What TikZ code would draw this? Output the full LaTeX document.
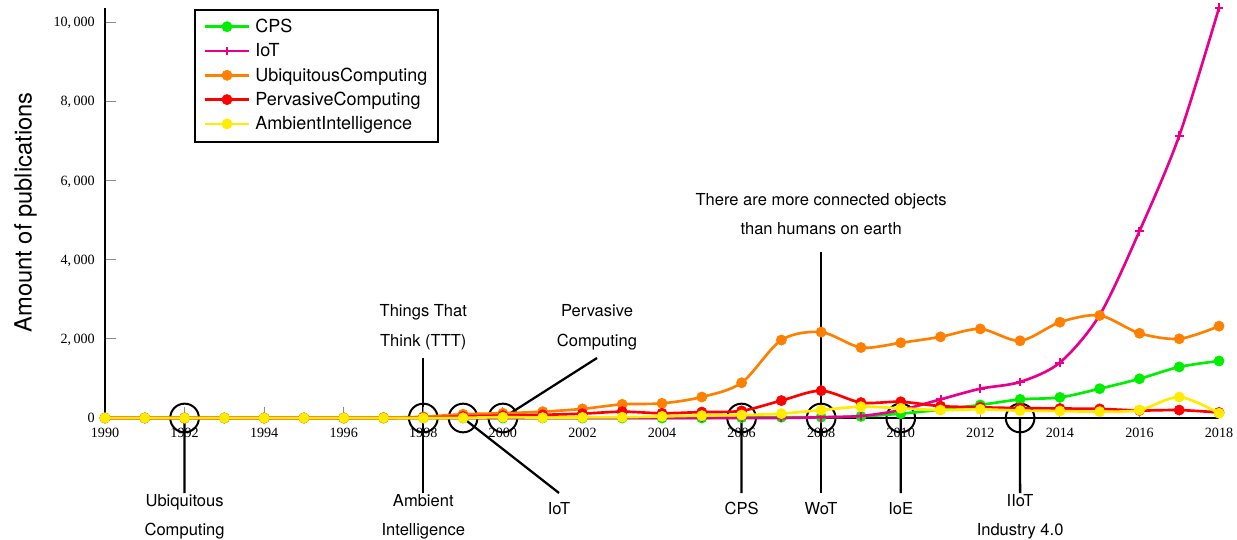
\documentclass[tikz,border=0pt]{standalone}
\usepackage{fontspec}
\setmainfont{TeX Gyre Heros}
\newfontfamily\tickfont{Liberation Serif}

\definecolor{cpsgreen}{RGB}{0,238,0}
\definecolor{iotpink}{RGB}{232,0,140}
\definecolor{ubiorange}{RGB}{255,128,0}
\definecolor{pervred}{RGB}{255,0,0}
\definecolor{amiyellow}{RGB}{255,236,0}

\tikzset {
    style note/.style={
        font=\fontsize{12.4}{22}\selectfont,
        align=center,
        inner sep=1pt,
    },
    style short/.style={
        style note,
        inner ysep=7pt, % one-line labels sit lower
    },
    style ring/.style={
        circle, % the marker round a year
        draw=black,
        line width=1.5pt,
        minimum size=21.5pt,
        inner sep=0pt,
    },
    style pointer/.style={
        draw=black,
        line width=1.7pt,
    },
    style axis/.style={
        draw=black,
        line width=1.8pt,
    },
    style tick/.style={
        draw=black!45,
        line width=0.7pt,
    },
    style ticklabel/.style={
        font=\tickfont\fontsize{10.6}{12}\selectfont,
        inner sep=0pt,
    },
    style key/.style={
        font=\fontsize{13.5}{16}\selectfont,
        inner sep=0pt,
    },
    style series/.style={
        line width=2pt,
        mark size=3.8pt,
        mark options={line width=0.5pt},
    },
    series cps/.style={style series, cpsgreen, mark=*},
    series iot/.style={style series, iotpink, mark=+, mark size=3.3pt, mark options={line width=1.5pt}},
    series ubi/.style={style series, ubiorange, mark=*},
    series perv/.style={style series, pervred, mark=*},
    series ami/.style={style series, amiyellow, mark=*},
}

\begin{document}
\begin{tikzpicture}[x=0.75pt, y=0.75pt]
\useasboundingbox (0,0) rectangle (1237,539);

% annotations (behind the data)
\node[style note, anchor=north] at (184.6,46) (ubi) {Ubiquitous\\Computing};
\node[style note, anchor=south, inner ysep=6pt] at (423.3,181) (ttt) {Things That\\Think (TTT)};
\node[style note, anchor=north] at (423.3,46) (ami) {Ambient\\Intelligence};
\node[style short, anchor=north] at (559,46) (iot) {IoT};
\node[style note, anchor=south, inner ysep=6pt] at (597,181) (perv) {Pervasive\\Computing};
\node[style short, anchor=north] at (741.6,46) (cps) {CPS};
\node[style note, anchor=south, inner ysep=12.5pt] at (821.1,287) (humans) {There are more connected objects\\than humans on earth};
\node[style short, anchor=north] at (821.1,46) (wot) {WoT};
\node[style short, anchor=north] at (900.7,46) (ioe) {IoE};
\node[style note, anchor=north] at (1020.1,46) (iiot) {IIoT\\Industry 4.0};

\node[rotate=90, anchor=base, font=\fontsize{17.8}{20}\selectfont] at (31.7,326.5) (ylab) {Amount of publications};

\begin{scope}[xshift=78.75pt, yshift=90.75pt, x=29.84pt, y=0.0297pt]
\node[style ring] at (2,0) (r1992) {};
\node[style ring] at (8,0) (r1998) {};
\node[style ring] at (9,0) (r1999) {};
\node[style ring] at (10,0) (r2000) {};
\node[style ring] at (16,0) (r2006) {};
\node[style ring] at (18,0) (r2008) {};
\node[style ring] at (20,0) (r2010) {};
\node[style ring] at (23,0) (r2013) {};

\draw[style pointer] (r1992.center) -- (ubi.north);
\draw[style pointer] (ttt.south) -- (ami.north);
\draw[style pointer] (r1999.center) -- (iot.north);
\draw[style pointer] (r2000.center) -- (perv.south);
\draw[style pointer] (r2006.center) -- (cps.north);
\draw[style pointer] (humans.south) -- (wot.north);
\draw[style pointer] (r2010.center) -- (ioe.north);
\draw[style pointer] (r2013.center) -- (iiot.north);

% axes
\foreach \v/\t [count=\i] in {0/0, 2000/{2,\,000}, 4000/{4,\,000}, 6000/{6,\,000}, 8000/{8,\,000}, 10000/{10,\,000}} {
    \draw[style tick] (0,\v) -- ++(8.5pt,0);
    \node[style ticklabel, anchor=base east, xshift=-7.5pt, yshift=-3.45pt] at (0,\v) (ytick\i) {\t};
}
\foreach \yr [count=\i] in {0,2,...,28} {
    \pgfmathtruncatemacro\lab{1990+\yr}
    \draw[style tick] (\yr,0) -- ++(0,8.25pt);
    \node[style ticklabel, anchor=base, yshift=-14.85pt] at (\yr,0) (xtick\i) {\lab};
}
\draw[style axis] (0,0) -- (28,0);
\draw[style axis] (0,0) -- (0,10354);

% data
\draw[series cps] plot[smooth] coordinates {(0,0) (1,0) (2,0) (3,0) (4,0) (5,0) (6,0) (7,0) (8,0) (9,0) (10,0) (11,0) (12,0) (13,0) (14,0) (15,0) (16,10) (17,20) (18,20) (19,40) (20,110) (21,210) (22,330) (23,470) (24,520) (25,740) (26,990) (27,1290) (28,1440)};
\draw[series iot] plot[smooth] coordinates {(0,0) (1,0) (2,0) (3,0) (4,0) (5,0) (6,0) (7,0) (8,0) (9,0) (10,0) (11,0) (12,0) (13,0) (14,0) (15,0) (16,0) (17,0) (18,20) (19,50) (20,200) (21,470) (22,740) (23,910) (24,1400) (25,2600) (26,4720) (27,7130) (28,10360)};
\draw[series ubi] plot[smooth] coordinates {(0,0) (1,0) (2,0) (3,0) (4,0) (5,0) (6,0) (7,10) (8,30) (9,95) (10,120) (11,160) (12,230) (13,345) (14,370) (15,530) (16,890) (17,1970) (18,2170) (19,1780) (20,1900) (21,2050) (22,2250) (23,1950) (24,2420) (25,2590) (26,2140) (27,2000) (28,2320)};
\draw[series perv] plot[smooth] coordinates {(0,0) (1,0) (2,0) (3,0) (4,0) (5,0) (6,0) (7,0) (8,10) (9,40) (10,60) (11,80) (12,110) (13,160) (14,120) (15,150) (16,180) (17,440) (18,690) (19,390) (20,410) (21,300) (22,270) (23,250) (24,240) (25,230) (26,190) (27,200) (28,140)};
\draw[series ami] plot[smooth] coordinates {(0,0) (1,0) (2,0) (3,0) (4,0) (5,0) (6,0) (7,0) (8,0) (9,5) (10,20) (11,10) (12,15) (13,20) (14,40) (15,60) (16,75) (17,110) (18,200) (19,285) (20,245) (21,200) (22,220) (23,185) (24,175) (25,160) (26,200) (27,530) (28,120)};
\end{scope}

% legend
\draw[line width=1.5pt] (195,397) rectangle (438,529);
\foreach \lab/\sty [count=\i] in {CPS/series cps, IoT/series iot, UbiquitousComputing/series ubi, PervasiveComputing/series perv, AmbientIntelligence/series ami} {
    \pgfmathsetmacro\ly{536.6-24.3*\i}
    \draw[\sty] (205,\ly) -- (249,\ly);
    \draw[\sty] plot coordinates {(227,\ly)};
    \node[style key, anchor=base west] at (255,{\ly-6}) (key\i) {\lab};
}
\end{tikzpicture}
\end{document}
